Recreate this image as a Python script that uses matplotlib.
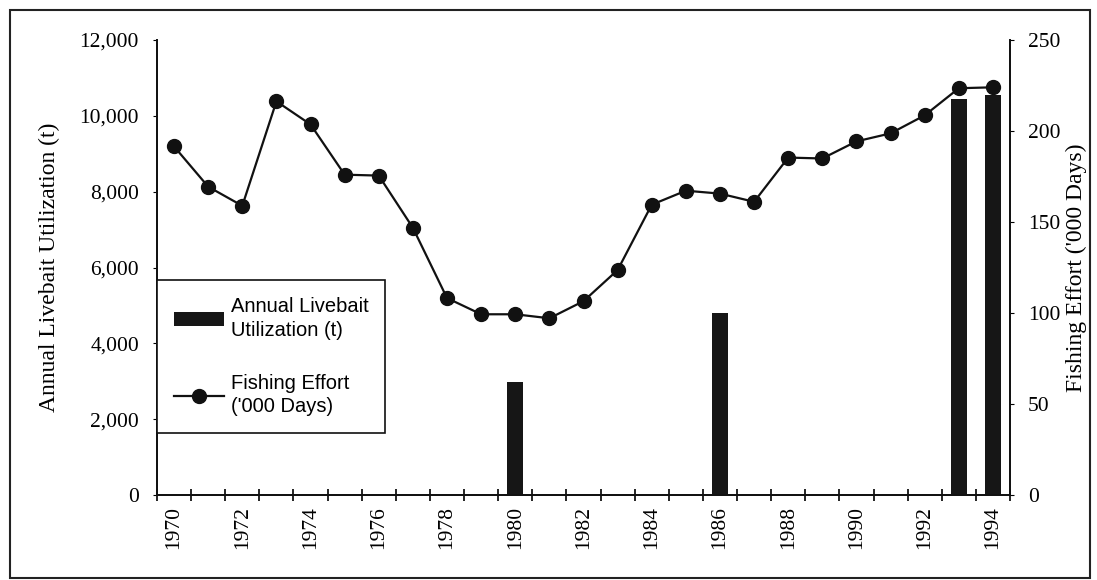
import numpy as np
import matplotlib.pyplot as plt
from matplotlib.patches import Rectangle

years = list(range(1970, 1995))
# annual livebait utilization (t), only years with a bar
livebait = [0, 0, 0, 0, 0, 0, 0, 0, 0, 0, 2980, 0, 0, 0, 0, 0, 4800,
            0, 0, 0, 0, 0, 0, 10450, 10550]
# fishing effort ('000 days)
effort = [191.5, 169.4, 158.9, 216.3, 203.6, 176.0, 175.5, 146.8, 108.2,
          99.3, 99.3, 97.1, 106.5, 123.6, 159.5, 167.2, 165.6, 161.1,
          185.4, 184.9, 194.3, 198.7, 208.6, 223.5, 224.0]
label_years = [str(y) for y in range(1970, 1995, 2)]

serif = ['Liberation Serif', 'DejaVu Serif']
sans = ['Liberation Sans', 'DejaVu Sans']

fig = plt.figure(figsize=(10.97, 5.8), dpi=100)
ax = fig.add_axes([157 / 1097, 1 - 495 / 580, (1010 - 157) / 1097, (495 - 40) / 580])
ax2 = ax.twinx()

x = np.arange(len(years))
ax.bar(x, livebait, width=0.46, color='#161616', linewidth=0,
       label='Annual Livebait\nUtilization (t)')
ax2.plot(x, effort, color='#111111', lw=1.6, marker='o', markersize=10,
         label="Fishing Effort\n('000 Days)")

ax.set_xlim(-0.44, 24.45)
ax.set_ylim(0, 12000)
ax2.set_ylim(0, 250)

ax.set_xticks(x[::2])
ax.set_xticklabels(label_years, rotation=90, family=serif, fontsize=15.5)
ax.set_xticks(np.arange(-0.5, 24.6, 1), minor=True)
ax.tick_params(axis='x', which='major', length=0, pad=8)
ax.tick_params(axis='x', which='minor', direction='inout', length=8, width=1.2)

ax.set_yticks(np.arange(0, 12001, 2000))
ax.set_yticklabels(['{:,}'.format(v) for v in range(0, 12001, 2000)],
                   family=serif, fontsize=15.5)
ax.tick_params(axis='y', length=3, width=0.8, pad=10)
ax2.set_yticks(np.arange(0, 251, 50))
ax2.set_yticklabels([str(v) for v in range(0, 251, 50)], family=serif, fontsize=15.5)
ax2.tick_params(axis='y', length=3, width=0.8, pad=10)

ax.set_ylabel('Annual Livebait Utilization (t)', family=serif, fontsize=17, labelpad=14)
ax2.set_ylabel("Fishing Effort ('000 Days)", family=serif, fontsize=17, labelpad=4)

for a in (ax, ax2):
    a.spines['top'].set_visible(False)
    for s in ('left', 'right', 'bottom'):
        a.spines[s].set_linewidth(1.3)
        a.spines[s].set_color('#111111')

h1, l1 = ax.get_legend_handles_labels()
h2, l2 = ax2.get_legend_handles_labels()
leg = ax2.legend(h1 + h2, l1 + l2, loc='upper left', bbox_to_anchor=(0.0, 0.4725),
                 prop={'family': sans, 'size': 14.5}, frameon=True, fancybox=False,
                 edgecolor='#111111', framealpha=1, borderpad=0.85, labelspacing=1.7,
                 handlelength=2.5, handletextpad=0.3, borderaxespad=0)
for t in leg.get_texts():
    t.set_linespacing(1.3)
leg.get_frame().set_linewidth(1.2)

fig.patches.append(Rectangle((10 / 1097, 2 / 580), 1080 / 1097, 568 / 580,
                             transform=fig.transFigure, fill=False,
                             edgecolor='#222222', linewidth=1.5))

fig.savefig('out.png', dpi=100)
